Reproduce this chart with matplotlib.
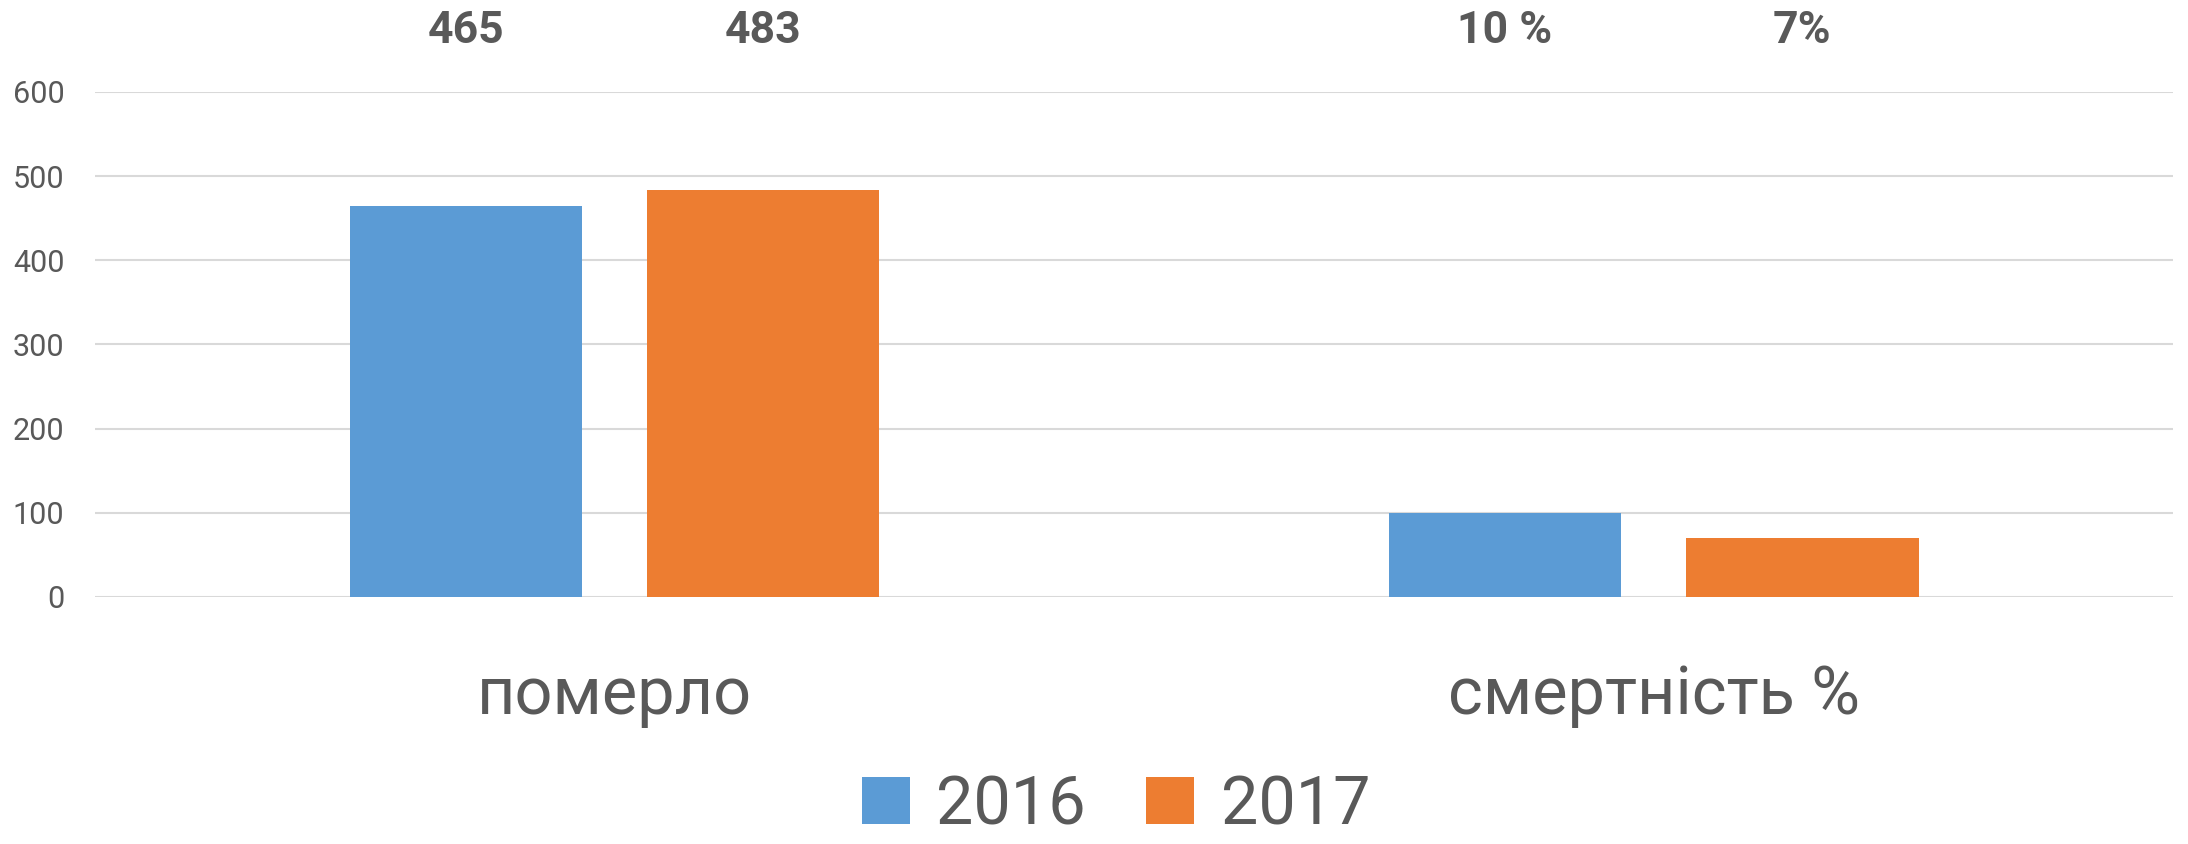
import numpy as np
import matplotlib.pyplot as plt

categories = ['померло', 'смертність %']
years = ['2016', '2017']
values_2016 = [465, 100]
values_2017 = [483, 70]
labels_2016 = ['465', '10 %']
labels_2017 = ['483', '7%']
yticks = [0, 100, 200, 300, 400, 500, 600]

blue = '#5B9BD5'
orange = '#ED7D31'
grey = '#595959'

plt.rcParams['font.family'] = ['Roboto', 'DejaVu Sans']

fig = plt.figure(figsize=(21.88, 8.44), dpi=100)
ax = fig.add_axes([0.0434, 0.2927, 0.9498, 0.5983])

x = np.arange(len(categories))
w = 0.224
off = 0.143
b1 = ax.bar(x - off, values_2016, w, color=blue, label=years[0], zorder=3)
b2 = ax.bar(x + off, values_2017, w, color=orange, label=years[1], zorder=3)

# value labels sit above the plot area
for xs, labs in ((x - off, labels_2016), (x + off, labels_2017)):
    for xi, lab in zip(xs, labs):
        ax.annotate(lab, xy=(xi, 1.12), xycoords=('data', 'axes fraction'),
                    ha='center', va='center', fontsize=32, fontweight='bold',
                    color=grey)

ax.set_xlim(-0.5, 1.5)
ax.set_ylim(0, 600)
ax.set_yticks(yticks)
ax.set_xticks(x)
ax.set_xticklabels(categories, fontsize=48, color=grey)
ax.tick_params(axis='y', labelsize=22, labelcolor=grey, length=0, pad=22)
ax.tick_params(axis='x', length=0, pad=48)
ax.grid(axis='y', color='#d9d9d9', linewidth=1.5, zorder=0)
for s in ax.spines.values():
    s.set_visible(False)

leg = fig.legend(loc='center', bbox_to_anchor=(0.51, 0.045), ncol=2,
                 frameon=False, fontsize=48, handlelength=0.72,
                 handleheight=0.72, handletextpad=0.4, columnspacing=0.9,
                 borderpad=0.1)
for t in leg.get_texts():
    t.set_color(grey)

fig.savefig('out.png', dpi=100)
